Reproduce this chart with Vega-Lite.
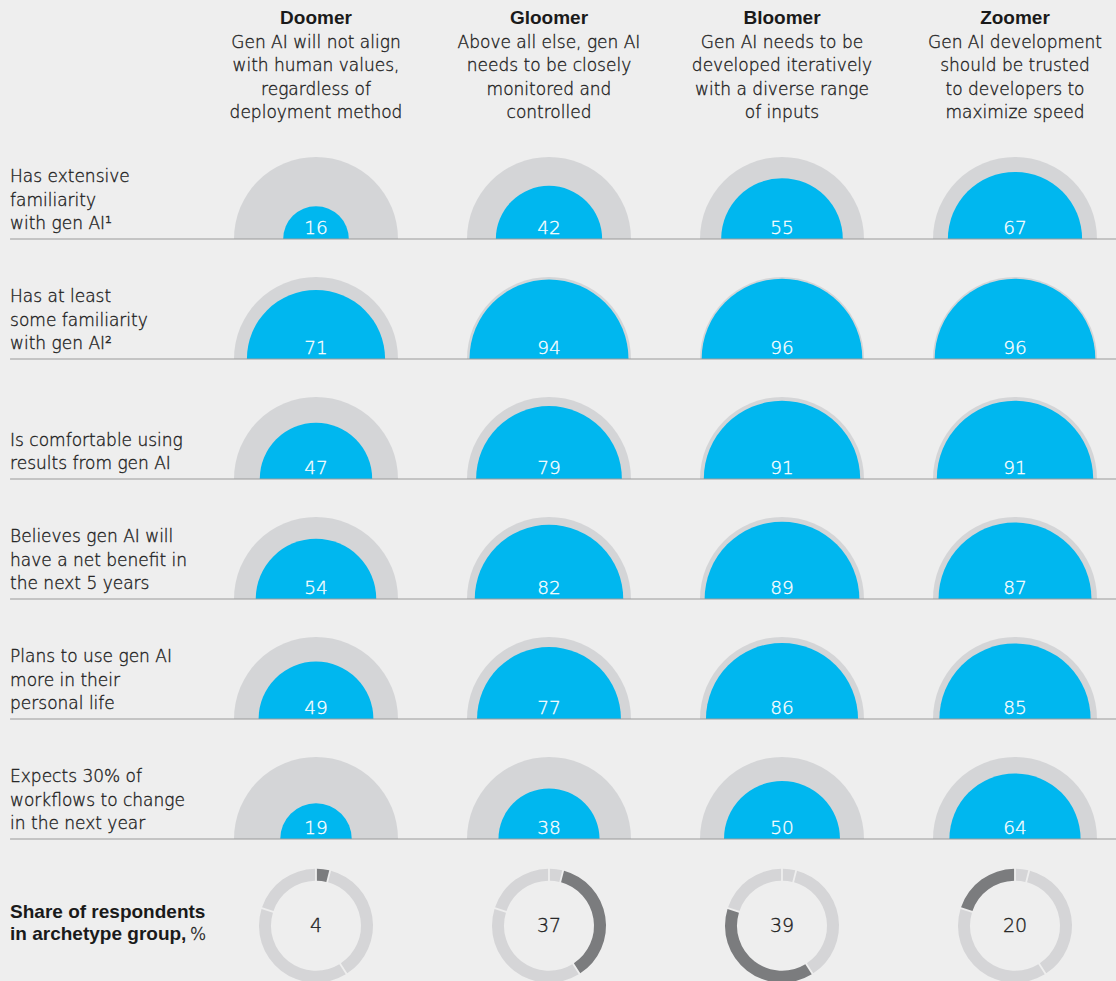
{
  "$schema": "https://vega.github.io/schema/vega-lite/v6.json",
  "width": 1116,
  "height": 981,
  "autosize": "none",
  "padding": 0,
  "background": "#eeeeee",
  "config": {"view": {"stroke": null}, "font": "DejaVu Sans"},
  "datasets": {
    "semis": [
      {"col": 0, "row": 1, "value": 16}, {"col": 1, "row": 1, "value": 42}, {"col": 2, "row": 1, "value": 55}, {"col": 3, "row": 1, "value": 67},
      {"col": 0, "row": 2, "value": 71}, {"col": 1, "row": 2, "value": 94}, {"col": 2, "row": 2, "value": 96}, {"col": 3, "row": 2, "value": 96},
      {"col": 0, "row": 3, "value": 47}, {"col": 1, "row": 3, "value": 79}, {"col": 2, "row": 3, "value": 91}, {"col": 3, "row": 3, "value": 91},
      {"col": 0, "row": 4, "value": 54}, {"col": 1, "row": 4, "value": 82}, {"col": 2, "row": 4, "value": 89}, {"col": 3, "row": 4, "value": 87},
      {"col": 0, "row": 5, "value": 49}, {"col": 1, "row": 5, "value": 77}, {"col": 2, "row": 5, "value": 86}, {"col": 3, "row": 5, "value": 85},
      {"col": 0, "row": 6, "value": 19}, {"col": 1, "row": 6, "value": 38}, {"col": 2, "row": 6, "value": 50}, {"col": 3, "row": 6, "value": 64}
    ],
    "rows": [
      {"row": 1, "label": "Has extensive\nfamiliarity\nwith gen AI¹"},
      {"row": 2, "label": "Has at least\nsome familiarity\nwith gen AI²"},
      {"row": 3, "label": "\nIs comfortable using\nresults from gen AI"},
      {"row": 4, "label": "Believes gen AI will\nhave a net benefit in\nthe next 5 years"},
      {"row": 5, "label": "Plans to use gen AI\nmore in their\npersonal life"},
      {"row": 6, "label": "Expects 30% of\nworkflows to change\nin the next year"}
    ],
    "heads": [
      {"col": 0, "name": "Doomer", "desc": "Gen AI will not align\nwith human values,\nregardless of\ndeployment method"},
      {"col": 1, "name": "Gloomer", "desc": "Above all else, gen AI\nneeds to be closely\nmonitored and\ncontrolled"},
      {"col": 2, "name": "Bloomer", "desc": "Gen AI needs to be\ndeveloped iteratively\nwith a diverse range\nof inputs"},
      {"col": 3, "name": "Zoomer", "desc": "Gen AI development\nshould be trusted\nto developers to\nmaximize speed"}
    ],
    "shares": [
      {"col": 0, "seg": 0, "share": 4, "kind": "own"}, {"col": 0, "seg": 1, "share": 37, "kind": "other"}, {"col": 0, "seg": 2, "share": 39, "kind": "other"}, {"col": 0, "seg": 3, "share": 20, "kind": "other"},
      {"col": 1, "seg": 0, "share": 4, "kind": "other"}, {"col": 1, "seg": 1, "share": 37, "kind": "own"}, {"col": 1, "seg": 2, "share": 39, "kind": "other"}, {"col": 1, "seg": 3, "share": 20, "kind": "other"},
      {"col": 2, "seg": 0, "share": 4, "kind": "other"}, {"col": 2, "seg": 1, "share": 37, "kind": "other"}, {"col": 2, "seg": 2, "share": 39, "kind": "own"}, {"col": 2, "seg": 3, "share": 20, "kind": "other"},
      {"col": 3, "seg": 0, "share": 4, "kind": "other"}, {"col": 3, "seg": 1, "share": 37, "kind": "other"}, {"col": 3, "seg": 2, "share": 39, "kind": "other"}, {"col": 3, "seg": 3, "share": 20, "kind": "own"}
    ],
    "totals": [
      {"col": 0, "share": 4}, {"col": 1, "share": 37}, {"col": 2, "share": 39}, {"col": 3, "share": 20}
    ]
  },
  "layer": [
    {
      "data": {"name": "semis"},
      "mark": {"type": "arc", "theta": -1.5708, "theta2": 1.5708, "color": "#d4d5d7"},
      "encoding": {
        "x": {"field": "col", "type": "quantitative", "stack": null, "scale": {"domain": [-1.3562, 3.4335], "nice": false, "zero": false}, "axis": null},
        "y": {"field": "row", "type": "quantitative", "stack": null, "scale": {"domain": [-0.9917, 7.1833], "nice": false, "zero": false, "reverse": true}, "axis": null},
        "radius": {"datum": 100, "type": "quantitative", "stack": null, "scale": {"type": "sqrt", "domain": [0, 100], "range": [0, 82], "zero": true, "nice": false}}
      }
    },
    {
      "data": {"name": "semis"},
      "mark": {"type": "arc", "theta": -1.5708, "theta2": 1.5708, "color": "#00b7ef"},
      "encoding": {
        "x": {"field": "col", "type": "quantitative", "stack": null},
        "y": {"field": "row", "type": "quantitative", "stack": null},
        "radius": {"field": "value", "type": "quantitative", "stack": null}
      }
    },
    {
      "data": {"name": "rows"},
      "mark": {"type": "rule", "color": "#9a9a9a", "strokeWidth": 1},
      "encoding": {
        "x": {"datum": -1.313, "type": "quantitative"},
        "x2": {"datum": 3.4335},
        "y": {"field": "row", "type": "quantitative"}
      }
    },
    {
      "data": {"name": "semis"},
      "mark": {"type": "text", "color": "#ffffff", "stroke": "#ffffff", "strokeWidth": 0.3, "fontSize": 18.5, "fontWeight": 200, "baseline": "alphabetic", "dy": -5},
      "encoding": {
        "x": {"field": "col", "type": "quantitative"},
        "y": {"field": "row", "type": "quantitative"},
        "text": {"field": "value", "type": "quantitative"}
      }
    },
    {
      "data": {"name": "rows"},
      "mark": {"type": "text", "color": "#222222", "stroke": "#222222", "strokeWidth": 0.35, "fontSize": 17, "fontWeight": 200, "align": "left", "baseline": "alphabetic", "lineBreak": "\n", "lineHeight": 23.5, "dy": -57},
      "encoding": {
        "x": {"datum": -1.313, "type": "quantitative"},
        "y": {"field": "row", "type": "quantitative"},
        "text": {"field": "label"}
      }
    },
    {
      "data": {"name": "heads"},
      "mark": {"type": "text", "font": "Liberation Sans", "color": "#1a1a1a", "fontSize": 19, "fontWeight": "bold", "align": "center", "baseline": "alphabetic", "dy": -95},
      "encoding": {
        "x": {"field": "col", "type": "quantitative"},
        "y": {"datum": 0, "type": "quantitative"},
        "text": {"field": "name"}
      }
    },
    {
      "data": {"name": "heads"},
      "mark": {"type": "text", "color": "#222222", "stroke": "#222222", "strokeWidth": 0.35, "fontSize": 17, "fontWeight": 200, "align": "center", "baseline": "alphabetic", "lineBreak": "\n", "lineHeight": 23.5, "dy": -71.5},
      "encoding": {
        "x": {"field": "col", "type": "quantitative"},
        "y": {"datum": 0, "type": "quantitative"},
        "text": {"field": "desc"}
      }
    },
    {
      "data": {"name": "shares"},
      "transform": [{"stack": "share", "groupby": ["col"], "sort": [{"field": "seg"}], "as": ["t0", "t1"]}],
      "mark": {"type": "arc", "radius": 57, "radius2": 45, "padAngle": 0.025},
      "encoding": {
        "x": {"field": "col", "type": "quantitative", "stack": null},
        "y": {"datum": 6.7225, "type": "quantitative"},
        "theta": {"field": "t0", "type": "quantitative", "stack": null, "scale": {"domain": [0, 100], "range": [0, 6.283185], "nice": false, "zero": false}},
        "theta2": {"field": "t1"},
        "color": {"field": "kind", "type": "nominal", "scale": {"domain": ["own", "other"], "range": ["#7b7c7e", "#d5d5d7"]}, "legend": null}
      }
    },
    {
      "data": {"name": "totals"},
      "mark": {"type": "text", "color": "#222222", "stroke": "#222222", "strokeWidth": 0.35, "fontSize": 19, "fontWeight": 200, "align": "center", "baseline": "middle"},
      "encoding": {
        "x": {"field": "col", "type": "quantitative"},
        "y": {"datum": 6.7225, "type": "quantitative"},
        "text": {"field": "share", "type": "quantitative"}
      }
    },
    {
      "data": {"values": [{"label": "Share of respondents\nin archetype group,"}]},
      "mark": {"type": "text", "font": "Liberation Sans", "color": "#1a1a1a", "fontSize": 19, "fontWeight": "bold", "align": "left", "baseline": "alphabetic", "lineBreak": "\n", "lineHeight": 22.7, "dy": -8},
      "encoding": {
        "x": {"datum": -1.313, "type": "quantitative"},
        "y": {"datum": 6.7225, "type": "quantitative"},
        "text": {"field": "label"}
      }
    },
    {
      "data": {"values": [{"label": "%"}]},
      "mark": {"type": "text", "color": "#222222", "stroke": "#222222", "strokeWidth": 0.35, "fontSize": 17, "fontWeight": 200, "align": "left", "baseline": "alphabetic", "dx": 180, "dy": 14.6},
      "encoding": {
        "x": {"datum": -1.313, "type": "quantitative"},
        "y": {"datum": 6.7225, "type": "quantitative"},
        "text": {"field": "label"}
      }
    }
  ]
}
